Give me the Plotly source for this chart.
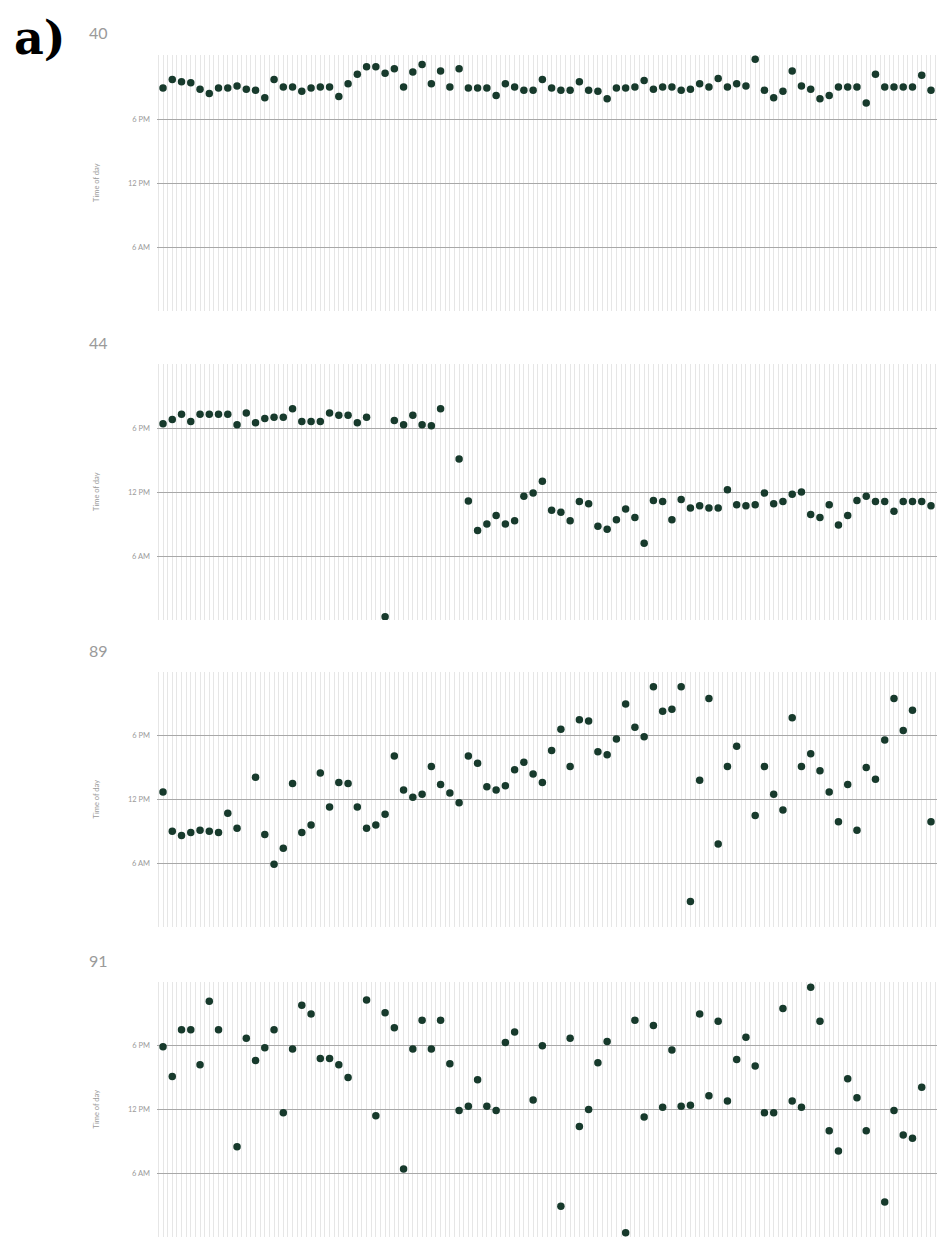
import plotly.graph_objects as go

# Daily activity time (hour of day, 0-24) for four users over 84 days; None = no record
days = list(range(84))

user_ids = ["40", "44", "89", "91"]

hours_40 = [20.9, 21.7, 21.5, 21.4, 20.8, 20.4, 20.9, 20.9, 21.1, 20.8, 20.7, 20.0, 21.7, 21.0,
            21.0, 20.6, 20.9, 21.0, 21.0, 20.1, 21.3, 22.2, 22.9, 22.9, 22.3, 22.7, 21.0, 22.4,
            23.1, 21.3, 22.5, 21.0, 22.7, 20.9, 20.9, 20.9, 20.2, 21.3, 21.0, 20.7, 20.7, 21.7,
            20.9, 20.7, 20.7, 21.5, 20.7, 20.6, 19.9, 20.9, 20.9, 21.0, 21.6, 20.8, 21.0, 21.0,
            20.7, 20.8, 21.3, 21.0, 21.8, 21.0, 21.3, 21.1, 23.6, 20.7, 20.0, 20.6, 22.5, 21.1,
            20.8, 19.9, 20.2, 21.0, 21.0, 21.0, 19.5, 22.2, 21.0, 21.0, 21.0, 21.0, 22.1, 20.7]

hours_44 = [18.4, 18.8, 19.3, 18.6, 19.3, 19.3, 19.3, 19.3, 18.3, 19.4, 18.5, 18.9, 19.0, 19.0,
            19.8, 18.6, 18.6, 18.6, 19.4, 19.2, 19.2, 18.5, 19.0, None, 0.3, 18.7, 18.3, 19.2,
            18.3, 18.2, 19.8, None, 15.1, 11.15, 8.4, 9.0, 9.8, 9.0, 9.3, 11.6, 11.9, 13.0,
            10.3, 10.1, 9.3, 11.1, 10.9, 8.8, 8.5, 9.4, 10.4, 9.6, 7.2, 11.2, 11.1, 9.4,
            11.3, 10.5, 10.7, 10.5, 10.5, 12.2, 10.8, 10.7, 10.8, 11.9, 10.9, 11.1, 11.8, 12.0,
            9.9, 9.6, 10.8, 8.9, 9.8, 11.2, 11.6, 11.1, 11.1, 10.2, 11.1, 11.1, 11.1, 10.7]

hours_89 = [12.7, 9.0, 8.6, 8.9, 9.1, 9.0, 8.9, 10.7, 9.3, None, 14.1, 8.7, 5.9, 7.4,
            13.5, 8.9, 9.6, 14.5, 11.3, 13.6, 13.5, 11.3, 9.3, 9.6, 10.6, 16.1, 12.9, 12.2,
            12.5, 15.1, 13.4, 12.6, 11.7, 16.1, 15.4, 13.2, 12.9, 13.3, 14.8, 15.5, 14.4, 13.6,
            16.6, 18.6, 15.1, 19.5, 19.4, 16.5, 16.2, 17.7, 21.0, 18.8, 17.9, 22.6, 20.3, 20.5,
            22.6, 2.4, 13.8, 21.5, 7.8, 15.1, 17.0, None, 10.5, 15.1, 12.5, 11.0, 19.7, 15.1,
            16.3, 14.7, 12.7, 9.9, 13.4, 9.1, 15.0, 13.9, 17.6, 21.5, 18.5, 20.4, None, 9.9]

hours_91 = [17.9, 15.1, 19.5, 19.5, 16.2, 22.2, 19.5, None, 8.5, 18.7, 16.6, 17.8, 19.5, 11.7,
            17.7, 21.8, 21.0, 16.8, 16.8, 16.2, 15.0, None, 22.3, 11.4, 21.1, 19.7, 6.4, 17.7,
            20.4, 17.7, 20.4, 16.3, 11.9, 12.3, 14.8, 12.3, 11.9, 18.3, 19.3, None, 12.9, 18.0,
            None, 2.9, 18.7, 10.4, 12.0, 16.4, 18.4, None, 0.4, 20.4, 11.3, 19.9, 12.2, 17.6,
            12.3, 12.4, 21.0, 13.3, 20.3, 12.8, 16.7, 18.8, 16.1, 11.7, 11.7, 21.5, 12.8, 12.2,
            23.5, 20.3, 10.0, 8.1, 14.9, 13.1, 10.0, None, 3.3, 11.9, 9.6, 9.3, 14.1, None]

series = [hours_40, hours_44, hours_89, hours_91]

hour_ticks = [6, 12, 18]
hour_tick_labels = ["6 AM", "12 PM", "6 PM"]

W, H = 941, 1241
plot_left, plot_right = 157, 937
panel_px = [(55, 311), (364, 620), (672, 927), (982, 1237)]  # top, bottom in pixels

dot_color = "#173a2c"
grid_major = "#a8a8a8"
grid_minor = "#e6e6e6"
label_grey = "#9a9a9a"

fig = go.Figure()
annotations = []

for k, (uid, vals) in enumerate(zip(user_ids, series)):
    n = "" if k == 0 else str(k + 1)
    top, bottom = panel_px[k]
    fig.add_trace(go.Scatter(
        x=days, y=vals, mode="markers",
        marker=dict(size=7.5, color=dot_color, line=dict(width=0)),
        xaxis="x" + n, yaxis="y" + n, showlegend=False,
        hoverinfo="x+y",
    ))
    fig.layout["xaxis" + n] = dict(
        domain=[plot_left / W, plot_right / W],
        anchor="y" + n,
        range=[-0.65, 83.65],
        showgrid=True, gridcolor=grid_minor, gridwidth=1,
        tick0=0, dtick=0.5,
        showticklabels=False, ticks="",
        zeroline=False,
        showline=False,
    )
    fig.layout["yaxis" + n] = dict(
        domain=[1 - bottom / H, 1 - top / H],
        anchor="x" + n,
        range=[0, 24],
        tickvals=hour_ticks, ticktext=hour_tick_labels,
        showgrid=True, gridcolor=grid_major, gridwidth=1.4,
        ticks="", ticklabelstandoff=6,
        tickfont=dict(family="Lato, sans-serif", size=7.5, color=label_grey),
        zeroline=False, showline=False,
    )
    # panel title (user id)
    annotations.append(dict(
        text=uid, xref="paper", yref="paper",
        x=87 / W, y=1 - (top - 22) / H, xanchor="left", yanchor="middle",
        showarrow=False, font=dict(family="Lato, sans-serif", size=16, color=label_grey),
    ))
    # rotated y-axis title
    annotations.append(dict(
        text="Time of day", xref="paper", yref="paper",
        x=96 / W, y=1 - ((top + bottom) / 2) / H, xanchor="center", yanchor="middle",
        textangle=-90, showarrow=False,
        font=dict(family="Lato, sans-serif", size=7.5, color=label_grey),
    ))

annotations.append(dict(
    text="<b>a)</b>", xref="paper", yref="paper",
    x=12 / W, y=1 - 38 / H, xanchor="left", yanchor="middle",
    showarrow=False, font=dict(family="DejaVu Serif, serif", size=46, color="#000000"),
))

fig.update_layout(
    width=W, height=H,
    margin=dict(l=0, r=0, t=0, b=0),
    paper_bgcolor="white", plot_bgcolor="white",
    annotations=annotations,
)

fig.write_html("out.html")
